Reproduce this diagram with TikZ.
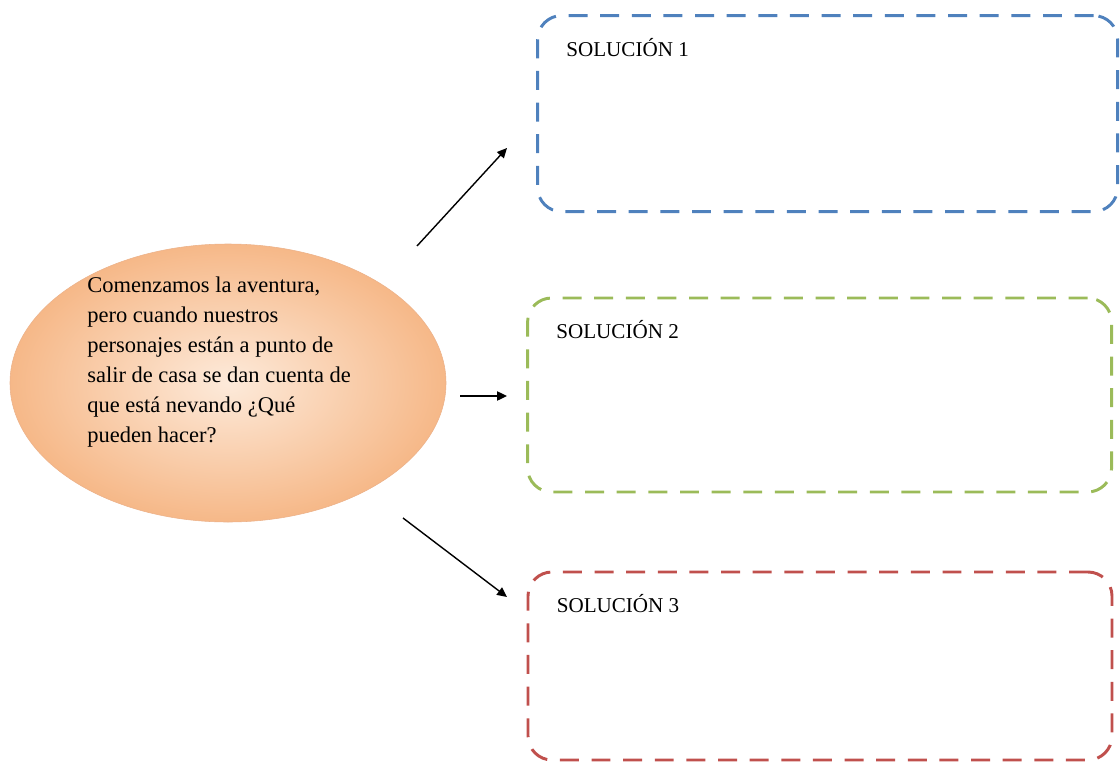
\documentclass[tikz,border=0pt]{standalone}
\usepackage{fontspec}
\setmainfont{Liberation Serif}
\usetikzlibrary{arrows.meta, positioning, shapes}
\definecolor{SolBlue}{RGB}{79,129,189}
\definecolor{SolGreen}{RGB}{155,187,89}
\definecolor{SolRed}{RGB}{192,80,77}
\definecolor{OvalDark}{RGB}{246,184,136}
\definecolor{OvalLight}{RGB}{253,234,218}
\definecolor{OvalEdge}{RGB}{236,178,138}

\tikzset{
  solbox/.style={line width=2.1pt, dash pattern=on 13.5pt off 9pt, rounded corners=0.6cm},
  soltitle/.style={font=\fontsize{15}{18}\selectfont, inner sep=0pt},
  flecha/.style={line width=1pt, -{Triangle[length=7pt,width=6.5pt]}}
}

\begin{document}
\begin{tikzpicture}
\useasboundingbox (0,0) rectangle (28,-19.05);

% Question
\node[ellipse, minimum width=10.9cm, minimum height=6.95cm, draw=OvalEdge, inner color=OvalLight, outer color=OvalDark] (ell) at (5.7,-9.575) {};
\node[anchor=west, align=left, inner sep=0pt, font=\fontsize{16}{21.3}\selectfont] (pregunta) at (2.175,-9.05)
  {Comenzamos la aventura,\\ pero cuando nuestros\\ personajes están a punto de\\ salir de casa se dan cuenta de\\ que está nevando ¿Qué\\ pueden hacer?};

% Solutions
\node[solbox, draw=SolBlue, minimum width=14.5cm, minimum height=4.9cm] (sol1) at (20.69,-2.84) {};
\node[solbox, draw=SolGreen, minimum width=14.6cm, minimum height=4.85cm] (sol2) at (20.49,-9.875) {};
\node[solbox, draw=SolRed, minimum width=14.6cm, minimum height=4.7cm] (sol3) at (20.5,-16.65) {};

\node[soltitle, below right=0.6cm and 0.75cm of sol1.north west] (t1) {SOLUCIÓN 1};
\node[soltitle, below right=0.6cm and 0.75cm of sol2.north west] (t2) {SOLUCIÓN 2};
\node[soltitle, below right=0.6cm and 0.75cm of sol3.north west] (t3) {SOLUCIÓN 3};

% Arrows
\coordinate (a1) at (10.425,-6.15);
\coordinate (b1) at (12.675,-3.7);
\coordinate (a2) at (11.5,-9.9);
\coordinate (b2) at (12.675,-9.9);
\coordinate (a3) at (10.075,-12.95);
\coordinate (b3) at (12.675,-14.925);
\draw[flecha] (a1) -- (b1);
\draw[flecha] (a2) -- (b2);
\draw[flecha] (a3) -- (b3);
\end{tikzpicture}
\end{document}
